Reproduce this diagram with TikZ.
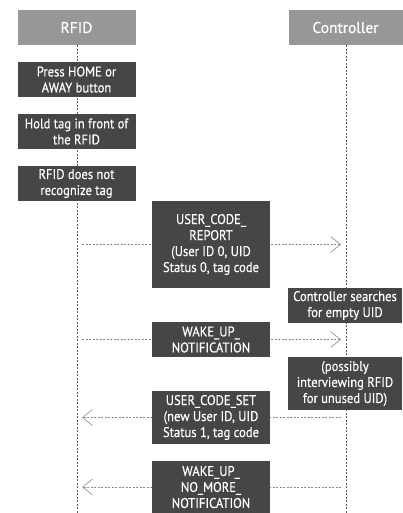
\documentclass[tikz,border=0pt]{standalone}
\usepackage{fontspec}
\setmainfont{PT Sans}[FakeStretch=0.9,FakeBold=0.4]
\newfontfamily\headfont{PT Sans}[FakeBold=0.6]
\usetikzlibrary{arrows.meta,backgrounds}
\definecolor{boxc}{HTML}{464646}
\definecolor{headc}{HTML}{979797}
\definecolor{linec}{HTML}{5A5A5A}
\definecolor{msgc}{HTML}{8A8A8A}
\begin{document}
\begin{tikzpicture}[x=1pt,y=-1pt,
  box/.style={fill=boxc,text=white,inner sep=0pt,minimum width=118pt,align=center,
    font=\fontsize{14}{16}\selectfont},
  cbox/.style={box,minimum width=114pt},
  head/.style={fill=headc,text=white,inner sep=0pt,minimum width=118pt,minimum height=35pt,
    font=\headfont\fontsize{15.5}{17}\selectfont},
  life/.style={draw=linec,line width=0.6pt,dash pattern=on 2pt off 1.5pt},
  msg/.style={draw=msgc,line width=0.6pt,dash pattern=on 2pt off 1.5pt,
    shorten <=5pt,shorten >=5pt,
    -{Straight Barb[length=10pt,width=16pt,line width=0.6pt,sep=0pt]}}]
\useasboundingbox (0,0) rectangle (402,513);
% heads
\node[head] (rfid) at (76.5,27.5) {RFID};
\node[head,minimum width=114pt] (ctrl) at (345.5,27.5) {Controller};
% RFID boxes
\node[box,minimum height=35pt] (b1) at (76.5,79.5) {Press HOME or\\AWAY button};
\node[box,minimum height=35pt] (b2) at (76.5,131.5) {Hold tag in front of\\the RFID};
\node[box,minimum height=35pt] (b3) at (76.5,183.5) {RFID does not\\recognize tag};
% messages
\node[box,minimum height=87pt] (m1) at (211,244.5) {USER\_CODE\_\\REPORT\\(User ID 0, UID\\Status 0, tag code};
\node[cbox,minimum height=35pt] (c1) at (345,305.5) {Controller searches\\for empty UID};
\node[box,minimum height=35pt] (m2) at (211,339.5) {WAKE\_UP\_\\NOTIFICATION};
\node[cbox,minimum height=53pt] (c2) at (345,383.5) {(possibly\\interviewing RFID\\for unused UID)};
\node[box,minimum height=53pt] (m3) at (211,417.5) {USER\_CODE\_SET\\(new User ID, UID\\Status 1, tag code};
\node[box,minimum height=52pt] (m4) at (211,487) {WAKE\_UP\_\\NO\_MORE\_\\NOTIFICATION};
% lifeline ends
\coordinate (rend) at (77,513);
\coordinate (cend) at (346,513);
\coordinate (rl) at (77,0);
\coordinate (cl) at (346,0);
\begin{scope}[on background layer]
  \draw[life] (rfid.south -| rl) -- (rend);
  \draw[life] (ctrl.south -| cl) -- (cend);
  \draw[msg] (rl |- m1.center) -- (cl |- m1.center);
  \draw[msg] (rl |- m2.center) -- (cl |- m2.center);
  \draw[msg] (cl |- m3.center) -- (rl |- m3.center);
  \draw[msg] (cl |- m4.center) -- (rl |- m4.center);
\end{scope}
\end{tikzpicture}
\end{document}
